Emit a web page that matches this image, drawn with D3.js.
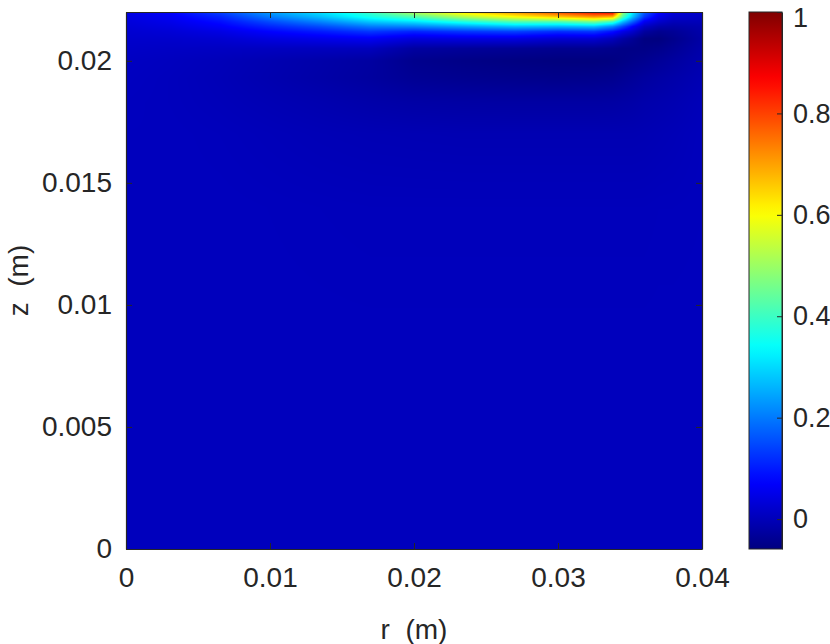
<!DOCTYPE html>
<html>
<head>
<meta charset="utf-8">
<script src="https://d3js.org/d3.v7.min.js"></script>
<style>
  body { margin: 0; background: #fff; }
  svg text { font-family: "Liberation Sans", Arial, sans-serif; fill: #262626; }
  .axis path, .axis line { stroke: #262626; }
</style>
</head>
<body>
<div id="chart"></div>
<script>
// grid nodes (m)
var rNodes = [0, 0.003, 0.0065, 0.01, 0.0135, 0.017, 0.02, 0.0235, 0.027, 0.03, 0.0325, 0.0338, 0.0345, 0.0352, 0.036, 0.037, 0.038, 0.04];
var zNodes = [0, 0.008, 0.014, 0.017, 0.0183, 0.0193, 0.0200, 0.0205, 0.0209, 0.0212, 0.0214, 0.0216, 0.0218, 0.022];

// field values, one row per z node (bottom to top), one entry per r node
var row_z0000 = [0.005, 0.005, 0.005, 0.005, 0.005, 0.005, 0.005, 0.005, 0.005, 0.005, 0.005, 0.005, 0.005, 0.005, 0.005, 0.005, 0.005, 0.005];
var row_z0080 = [0.005, 0.005, 0.005, 0.005, 0.005, 0.005, 0.005, 0.005, 0.005, 0.005, 0.005, 0.005, 0.005, 0.005, 0.005, 0.005, 0.005, 0.005];
var row_z0140 = [0.005, 0.005, 0.005, 0.004, 0.003, 0.002, 0.002, 0.002, 0.002, 0.002, 0.002, 0.002, 0.002, 0.002, 0.002, 0.003, 0.003, 0.004];
var row_z0170 = [0.005, 0.005, 0.003, 0.0, -0.003, -0.005, -0.006, -0.007, -0.007, -0.007, -0.007, -0.007, -0.007, -0.007, -0.006, -0.004, -0.002, 0.003];
var row_z0183 = [0.006, 0.004, 0.0, -0.005, -0.01, -0.016, -0.02, -0.022, -0.023, -0.023, -0.023, -0.022, -0.02, -0.018, -0.014, -0.011, -0.008, 0.0];
var row_z0193 = [0.008, 0.004, -0.002, -0.01, -0.018, -0.027, -0.038, -0.043, -0.046, -0.048, -0.046, -0.043, -0.038, -0.033, -0.027, -0.021, -0.016, -0.005];
var row_z0200 = [0.01, 0.006, 0.0, -0.008, -0.016, -0.025, -0.045, -0.052, -0.057, -0.06, -0.06, -0.057, -0.052, -0.047, -0.042, -0.034, -0.026, -0.01];
var row_z0205 = [0.015, 0.012, 0.01, 0.008, 0.006, 0.004, -0.025, -0.032, -0.037, -0.042, -0.042, -0.047, -0.052, -0.052, -0.052, -0.047, -0.037, -0.015];
var row_z0209 = [0.02, 0.02, 0.025, 0.04, 0.05, 0.06, 0.035, 0.04, 0.04, 0.025, 0.025, 0.003, -0.02, -0.037, -0.058, -0.06, -0.047, -0.02];
var row_z0212 = [0.025, 0.03, 0.045, 0.075, 0.1, 0.13, 0.11, 0.13, 0.14, 0.12, 0.13, 0.09, 0.05, 0.02, -0.025, -0.042, -0.036, -0.015];
var row_z0214 = [0.03, 0.04, 0.065, 0.11, 0.15, 0.2, 0.21, 0.24, 0.27, 0.26, 0.27, 0.21, 0.14, 0.07, 0.01, -0.015, -0.02, -0.01];
var row_z0216 = [0.035, 0.05, 0.085, 0.15, 0.21, 0.28, 0.31, 0.37, 0.42, 0.42, 0.46, 0.4, 0.27, 0.17, 0.06, 0.02, 0.0, 0.0];
var row_z0218 = [0.04, 0.06, 0.11, 0.2, 0.27, 0.36, 0.42, 0.52, 0.6, 0.66, 0.71, 0.68, 0.42, 0.27, 0.13, 0.05, 0.02, 0.01];
var row_z0220 = [0.045, 0.07, 0.14, 0.24, 0.31, 0.4, 0.53, 0.64, 0.72, 0.8, 0.87, 0.9, 0.5, 0.32, 0.17, 0.08, 0.035, 0.015];
var field = [row_z0000, row_z0080, row_z0140, row_z0170, row_z0183, row_z0193, row_z0200, row_z0205, row_z0209, row_z0212, row_z0214, row_z0216, row_z0218, row_z0220];

var rTicks = [0, 0.01, 0.02, 0.03, 0.04];
var zTicks = [0, 0.005, 0.01, 0.015, 0.02];
var cTicks = [0, 0.2, 0.4, 0.6, 0.8, 1];
var cRange = [-0.059, 1];

var margin = {top: 12, left: 126},
    width = 576, height = 537,
    W = 830, H = 644;

var svg = d3.select("#chart").append("svg")
    .attr("width", W).attr("height", H);

var x = d3.scaleLinear().domain([0, 0.04]).range([0, width]);
var y = d3.scaleLinear().domain([0, 0.022]).range([height, 0]);

// jet colormap over the colour limits
var jetF = [0, 0.125, 0.375, 0.625, 0.875, 1];
var color = d3.scaleLinear()
    .domain(jetF.map(function(f) { return cRange[0] + f * (cRange[1] - cRange[0]); }))
    .range(["#000080", "#0000ff", "#00ffff", "#ffff00", "#ff0000", "#800000"])
    .interpolate(d3.interpolateRgb)
    .clamp(true);

function fieldAt(r, z) {
  var i = Math.min(Math.max(d3.bisectRight(rNodes, r) - 1, 0), rNodes.length - 2);
  var j = Math.min(Math.max(d3.bisectRight(zNodes, z) - 1, 0), zNodes.length - 2);
  var tr = (r - rNodes[i]) / (rNodes[i + 1] - rNodes[i]);
  var tz = (z - zNodes[j]) / (zNodes[j + 1] - zNodes[j]);
  tr = Math.max(0, Math.min(1, tr)); tz = Math.max(0, Math.min(1, tz));
  var a = field[j][i], b = field[j][i + 1], c = field[j + 1][i], d = field[j + 1][i + 1];
  return (a * (1 - tr) + b * tr) * (1 - tz) + (c * (1 - tr) + d * tr) * tz;
}

// interpolated shading of the field
var canvas = document.createElement("canvas");
canvas.width = width; canvas.height = height;
var ctx = canvas.getContext("2d");
var img = ctx.createImageData(width, height);
for (var py = 0; py < height; py++) {
  var z = y.invert(py + 0.5);
  for (var px = 0; px < width; px++) {
    var c = d3.rgb(color(fieldAt(x.invert(px + 0.5), z)));
    var k = (py * width + px) * 4;
    img.data[k] = c.r; img.data[k + 1] = c.g; img.data[k + 2] = c.b; img.data[k + 3] = 255;
  }
}
ctx.putImageData(img, 0, 0);

var g = svg.append("g").attr("transform", "translate(" + margin.left + "," + margin.top + ")");
g.append("image")
    .attr("x", 0).attr("y", 0)
    .attr("width", width).attr("height", height)
    .attr("preserveAspectRatio", "none")
    .attr("href", canvas.toDataURL());

var fmt = function(d) { return d === 0 ? "0" : String(d); };
var fs = "28px";

g.append("g").attr("class", "axis")
    .attr("transform", "translate(0," + height + ")")
    .call(d3.axisBottom(x).tickValues(rTicks).tickFormat(fmt).tickSizeInner(-6).tickSizeOuter(0).tickPadding(18));
g.append("g").attr("class", "axis")
    .call(d3.axisTop(x).tickValues(rTicks).tickFormat("").tickSizeInner(-6).tickSizeOuter(0));
g.append("g").attr("class", "axis")
    .call(d3.axisLeft(y).tickValues(zTicks).tickFormat(fmt).tickSizeInner(-6).tickSizeOuter(0).tickPadding(14));
g.append("g").attr("class", "axis")
    .attr("transform", "translate(" + width + ",0)")
    .call(d3.axisRight(y).tickValues(zTicks).tickFormat("").tickSizeInner(-6).tickSizeOuter(0));
g.selectAll(".axis text").style("font-size", fs).style("font-family", "Liberation Sans, Arial, sans-serif");
g.selectAll(".axis path.domain").attr("stroke", "#555").attr("stroke-width", 1.2);

svg.append("text")
    .attr("x", margin.left + width / 2).attr("y", 639)
    .attr("text-anchor", "middle")
    .style("font-size", fs)
    .style("white-space", "pre")
    .text("r  (m)");
svg.append("text")
    .attr("transform", "translate(28," + (margin.top + height / 2) + ") rotate(-90)")
    .attr("text-anchor", "middle")
    .style("font-size", fs)
    .style("white-space", "pre")
    .text("z  (m)");

// colour bar
var cb = {x: 749, w: 33};
var cy = d3.scaleLinear().domain(cRange).range([margin.top + height, margin.top]);
var defs = svg.append("defs");
var grad = defs.append("linearGradient").attr("id", "jet")
    .attr("x1", 0).attr("y1", 1).attr("x2", 0).attr("y2", 0);
grad.selectAll("stop").data(d3.range(0, 1.0001, 0.02)).enter().append("stop")
    .attr("offset", function(t) { return t; })
    .attr("stop-color", function(t) { return color(cRange[0] + t * (cRange[1] - cRange[0])); });
svg.append("rect")
    .attr("x", cb.x).attr("y", margin.top)
    .attr("width", cb.w).attr("height", height)
    .attr("fill", "url(#jet)");
var cAxis = svg.append("g").attr("class", "axis")
    .attr("transform", "translate(" + (cb.x + cb.w) + ",0)")
    .call(d3.axisRight(cy).tickValues(cTicks).tickFormat(fmt).tickSizeInner(-5).tickSizeOuter(0).tickPadding(11));
cAxis.selectAll("text").style("font-size", "27px");
cAxis.selectAll(".tick").filter(function(d) { return d === 1; }).select("text").attr("dy", "0.55em");
svg.append("rect")
    .attr("x", cb.x).attr("y", margin.top)
    .attr("width", cb.w).attr("height", height)
    .attr("fill", "none").attr("stroke", "#262626").attr("stroke-width", 1);
</script>
</body>
</html>
